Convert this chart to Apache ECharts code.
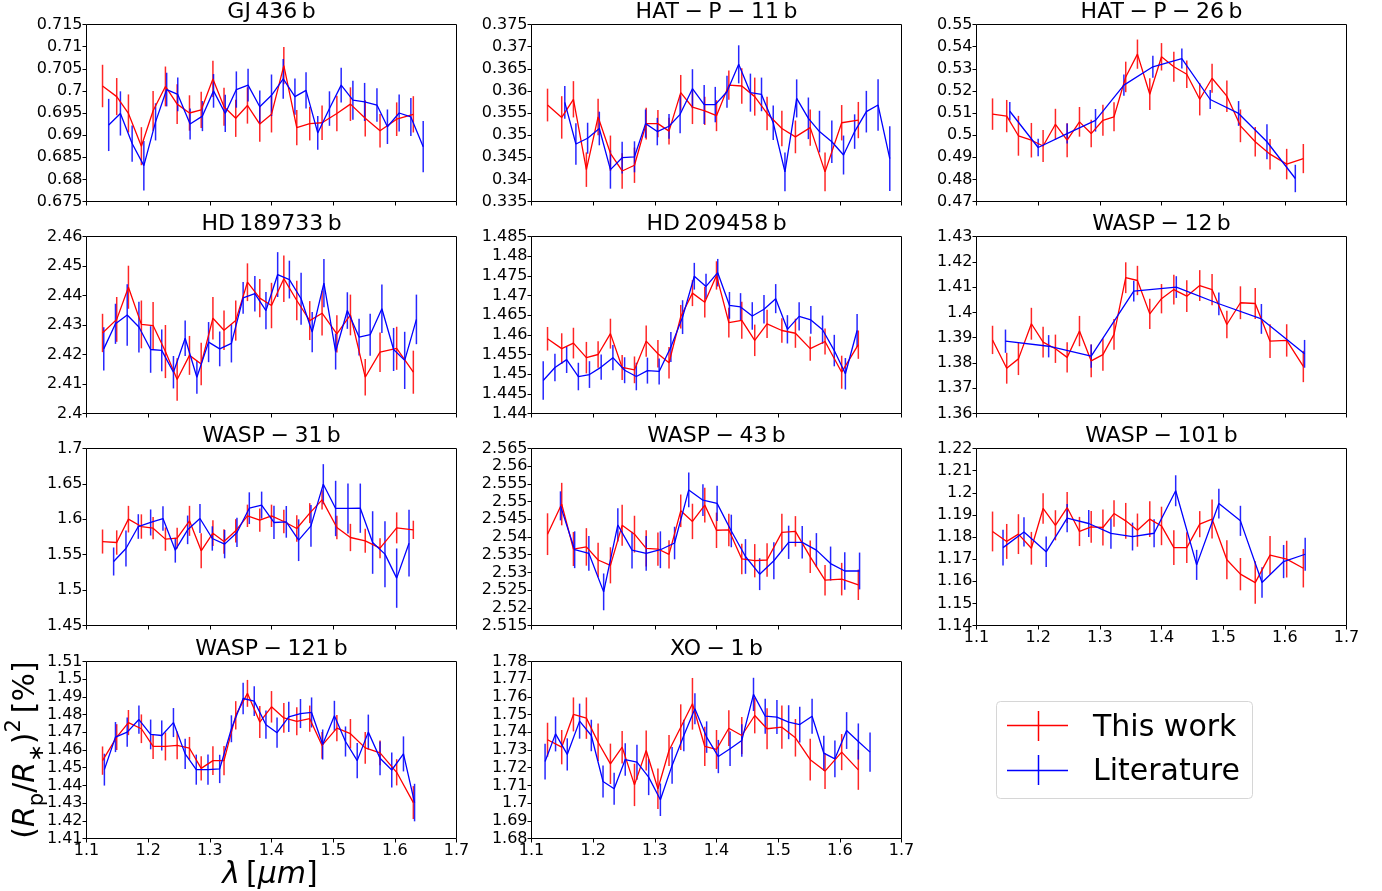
<!DOCTYPE html>
<html>
<head>
<meta charset="utf-8">
<script src="https://cdn.jsdelivr.net/npm/echarts@6/dist/echarts.min.js"></script>
<style>
  html, body { margin: 0; padding: 0; background: #ffffff; }
  #chart { width: 1382px; height: 891px; }
</style>
</head>
<body>
<div id="chart"></div>
<script>
// Wavelength grid (µm) of "This work" spectra, common to every planet
const wl_work = [1.126, 1.149, 1.168, 1.189, 1.208, 1.228, 1.247, 1.267, 1.286, 1.305, 1.323, 1.342, 1.361, 1.381, 1.400, 1.420, 1.441, 1.462, 1.482, 1.506, 1.528, 1.552, 1.576, 1.603, 1.630];

// ---- GJ 436 b ----
const gj436_work = [0.7011, 0.6987, 0.6949, 0.6875, 0.6955, 0.7010, 0.6970, 0.6950, 0.6957, 0.7027, 0.6964, 0.6938, 0.6967, 0.6925, 0.6947, 0.7057, 0.6917, 0.6926, 0.6928, 0.6949, 0.6970, 0.6938, 0.6910, 0.6936, 0.6947];
const gj436_work_err = [0.0048, 0.0042, 0.0043, 0.0043, 0.0045, 0.0045, 0.0045, 0.0040, 0.0041, 0.0041, 0.0043, 0.0042, 0.0041, 0.0040, 0.0041, 0.0042, 0.0040, 0.0038, 0.0039, 0.0040, 0.0038, 0.0041, 0.0038, 0.0038, 0.0041];
const gj436_lit_wl = [1.136, 1.155, 1.174, 1.193, 1.212, 1.230, 1.248, 1.268, 1.288, 1.306, 1.325, 1.343, 1.362, 1.381, 1.400, 1.419, 1.438, 1.456, 1.475, 1.494, 1.513, 1.532, 1.551, 1.571, 1.588, 1.607, 1.626, 1.646];
const gj436_lit = [0.6923, 0.6949, 0.6881, 0.6831, 0.6930, 0.7003, 0.6992, 0.6925, 0.6943, 0.7000, 0.6949, 0.7003, 0.7013, 0.6964, 0.6990, 0.7027, 0.6987, 0.7001, 0.6905, 0.6960, 0.7013, 0.6979, 0.6975, 0.6968, 0.6919, 0.6950, 0.6941, 0.6874];
const gj436_lit_err = [0.0059, 0.0050, 0.0041, 0.0056, 0.0042, 0.0038, 0.0038, 0.0035, 0.0034, 0.0038, 0.0042, 0.0041, 0.0037, 0.0037, 0.0047, 0.0045, 0.0041, 0.0041, 0.0038, 0.0039, 0.0039, 0.0044, 0.0043, 0.0038, 0.0039, 0.0042, 0.0043, 0.0058];
const gj436_yaxis = [0.675, 0.715, 0.005];

// ---- HAT-P-11 b ----
const hatp11_work = [0.3568, 0.3540, 0.3581, 0.3422, 0.3541, 0.3459, 0.3419, 0.3432, 0.3526, 0.3526, 0.3509, 0.3596, 0.3563, 0.3555, 0.3544, 0.3613, 0.3611, 0.3587, 0.3549, 0.3515, 0.3496, 0.3517, 0.3417, 0.3528, 0.3534];
const hatp11_work_err = [0.0037, 0.0048, 0.0041, 0.0039, 0.0041, 0.0040, 0.0040, 0.0040, 0.0036, 0.0031, 0.0030, 0.0040, 0.0038, 0.0032, 0.0035, 0.0033, 0.0040, 0.0043, 0.0038, 0.0040, 0.0037, 0.0041, 0.0044, 0.0040, 0.0041];
const hatp11_lit_wl = [1.154, 1.172, 1.191, 1.210, 1.228, 1.247, 1.267, 1.285, 1.304, 1.323, 1.341, 1.361, 1.380, 1.398, 1.417, 1.436, 1.455, 1.473, 1.492, 1.511, 1.530, 1.549, 1.567, 1.587, 1.606, 1.624, 1.643, 1.662, 1.681];
const hatp11_lit = [0.3574, 0.3480, 0.3493, 0.3515, 0.3422, 0.3449, 0.3451, 0.3526, 0.3508, 0.3520, 0.3547, 0.3605, 0.3569, 0.3569, 0.3598, 0.3660, 0.3596, 0.3592, 0.3528, 0.3417, 0.3583, 0.3538, 0.3508, 0.3485, 0.3455, 0.3508, 0.3553, 0.3568, 0.3447];
const hatp11_lit_err = [0.0037, 0.0047, 0.0035, 0.0038, 0.0043, 0.0036, 0.0035, 0.0032, 0.0031, 0.0028, 0.0043, 0.0044, 0.0044, 0.0040, 0.0036, 0.0043, 0.0043, 0.0038, 0.0039, 0.0044, 0.0043, 0.0047, 0.0047, 0.0048, 0.0044, 0.0039, 0.0047, 0.0058, 0.0073];
const hatp11_yaxis = [0.335, 0.375, 0.005];

// ---- HAT-P-26 b ----
const hatp26_work = [0.5095, 0.5086, 0.4997, 0.4977, 0.4951, 0.5049, 0.4977, 0.5060, 0.5007, 0.5067, 0.5083, 0.5263, 0.5366, 0.5185, 0.5354, 0.5309, 0.5275, 0.5162, 0.5257, 0.5176, 0.5042, 0.4970, 0.4914, 0.4869, 0.4894];
const hatp26_work_err = [0.0071, 0.0073, 0.0090, 0.0078, 0.0072, 0.0070, 0.0077, 0.0067, 0.0062, 0.0070, 0.0066, 0.0069, 0.0066, 0.0072, 0.0062, 0.0068, 0.0062, 0.0073, 0.0066, 0.0071, 0.0074, 0.0067, 0.0069, 0.0069, 0.0066];
const hatp26_lit_wl = [1.154, 1.200, 1.247, 1.293, 1.339, 1.386, 1.433, 1.479, 1.525, 1.571, 1.617];
const hatp26_lit = [0.5108, 0.4944, 0.5007, 0.5067, 0.5226, 0.5309, 0.5346, 0.5161, 0.5098, 0.4970, 0.4804];
const hatp26_lit_err = [0.0042, 0.0040, 0.0045, 0.0051, 0.0048, 0.0050, 0.0045, 0.0043, 0.0056, 0.0079, 0.0062];
const hatp26_yaxis = [0.47, 0.55, 0.01];

// ---- HD 189733 b ----
const hd189_work = [2.4273, 2.4319, 2.4428, 2.4302, 2.4298, 2.4210, 2.4115, 2.4197, 2.4168, 2.4323, 2.4282, 2.4315, 2.4445, 2.4391, 2.4366, 2.4457, 2.4383, 2.4315, 2.4340, 2.4270, 2.4334, 2.4123, 2.4208, 2.4221, 2.4140];
const hd189_work_err = [0.0065, 0.0076, 0.0073, 0.0081, 0.0080, 0.0090, 0.0072, 0.0066, 0.0072, 0.0072, 0.0067, 0.0068, 0.0064, 0.0065, 0.0077, 0.0079, 0.0067, 0.0066, 0.0076, 0.0063, 0.0069, 0.0062, 0.0067, 0.0073, 0.0073];
const hd189_lit_wl = [1.128, 1.147, 1.166, 1.185, 1.204, 1.222, 1.241, 1.260, 1.279, 1.298, 1.316, 1.335, 1.354, 1.373, 1.391, 1.410, 1.429, 1.448, 1.466, 1.485, 1.504, 1.523, 1.542, 1.560, 1.579, 1.598, 1.616, 1.635];
const hd189_lit = [2.4219, 2.4304, 2.4334, 2.4293, 2.4217, 2.4214, 2.4140, 2.4255, 2.4123, 2.4242, 2.4219, 2.4238, 2.4392, 2.4406, 2.4349, 2.4471, 2.4454, 2.4389, 2.4276, 2.4442, 2.4210, 2.4349, 2.4259, 2.4267, 2.4355, 2.4217, 2.4180, 2.4319];
const hd189_lit_err = [0.0073, 0.0068, 0.0104, 0.0086, 0.0079, 0.0071, 0.0055, 0.0060, 0.0056, 0.0068, 0.0059, 0.0065, 0.0054, 0.0060, 0.0063, 0.0076, 0.0064, 0.0088, 0.0068, 0.0082, 0.0061, 0.0062, 0.0062, 0.0071, 0.0082, 0.0073, 0.0097, 0.0084];
const hd189_yaxis = [2.40, 2.46, 0.01];

// ---- HD 209458 b ----
const hd209_work = [1.4590, 1.4565, 1.4579, 1.4542, 1.4550, 1.4603, 1.4517, 1.4511, 1.4584, 1.4552, 1.4529, 1.4646, 1.4706, 1.4683, 1.4751, 1.4631, 1.4637, 1.4586, 1.4628, 1.4611, 1.4604, 1.4565, 1.4583, 1.4505, 1.4575];
const hd209_work_err = [0.0030, 0.0039, 0.0039, 0.0040, 0.0034, 0.0038, 0.0032, 0.0034, 0.0040, 0.0035, 0.0040, 0.0030, 0.0033, 0.0039, 0.0036, 0.0038, 0.0047, 0.0040, 0.0036, 0.0031, 0.0037, 0.0031, 0.0033, 0.0042, 0.0036];
const hd209_lit_wl = [1.119, 1.138, 1.157, 1.176, 1.194, 1.213, 1.232, 1.251, 1.270, 1.288, 1.307, 1.326, 1.345, 1.364, 1.383, 1.402, 1.421, 1.439, 1.458, 1.477, 1.496, 1.515, 1.534, 1.553, 1.572, 1.591, 1.609, 1.628];
const hd209_lit = [1.4484, 1.4517, 1.4537, 1.4494, 1.4499, 1.4518, 1.4542, 1.4510, 1.4494, 1.4509, 1.4507, 1.4569, 1.4645, 1.4749, 1.4723, 1.4758, 1.4675, 1.4671, 1.4648, 1.4665, 1.4692, 1.4614, 1.4647, 1.4638, 1.4613, 1.4560, 1.4501, 1.4611];
const hd209_lit_err = [0.0049, 0.0035, 0.0034, 0.0035, 0.0034, 0.0032, 0.0032, 0.0033, 0.0035, 0.0033, 0.0033, 0.0038, 0.0043, 0.0034, 0.0032, 0.0035, 0.0034, 0.0035, 0.0035, 0.0036, 0.0037, 0.0036, 0.0036, 0.0035, 0.0036, 0.0040, 0.0040, 0.0042];
const hd209_yaxis = [1.44, 1.485, 0.005];

// ---- WASP-12 b ----
const wasp12_work = [1.3891, 1.3779, 1.3816, 1.3955, 1.3882, 1.3856, 1.3822, 1.3926, 1.3808, 1.3833, 1.3913, 1.4137, 1.4126, 1.3994, 1.4054, 1.4090, 1.4064, 1.4106, 1.4090, 1.3952, 1.4038, 1.4035, 1.3886, 1.3889, 1.3786];
const wasp12_work_err = [0.0056, 0.0061, 0.0064, 0.0063, 0.0061, 0.0056, 0.0060, 0.0060, 0.0065, 0.0064, 0.0061, 0.0061, 0.0058, 0.0060, 0.0058, 0.0059, 0.0063, 0.0061, 0.0062, 0.0054, 0.0065, 0.0061, 0.0067, 0.0064, 0.0062];
const wasp12_lit_wl = [1.147, 1.217, 1.286, 1.355, 1.424, 1.493, 1.562, 1.632];
const wasp12_lit = [1.3886, 1.3866, 1.3827, 1.4084, 1.4100, 1.4034, 1.3974, 1.3836];
const wasp12_lit_err = [0.0046, 0.0044, 0.0046, 0.0041, 0.0043, 0.0045, 0.0059, 0.0055];
const wasp12_yaxis = [1.36, 1.43, 0.01];

// ---- WASP-31 b ----
const wasp31_work = [1.5686, 1.5672, 1.6002, 1.5898, 1.5875, 1.5720, 1.5734, 1.5978, 1.5555, 1.5804, 1.5686, 1.5837, 1.6049, 1.5988, 1.6049, 1.5969, 1.5870, 1.6087, 1.6275, 1.5884, 1.5743, 1.5696, 1.5592, 1.5879, 1.5851];
const wasp31_work_err = [0.0170, 0.0172, 0.0188, 0.0172, 0.0158, 0.0165, 0.0148, 0.0212, 0.0247, 0.0181, 0.0172, 0.0165, 0.0158, 0.0165, 0.0158, 0.0167, 0.0188, 0.0141, 0.0137, 0.0165, 0.0193, 0.0170, 0.0141, 0.0219, 0.0129];
const wasp31_lit_wl = [1.144, 1.164, 1.184, 1.204, 1.224, 1.244, 1.264, 1.284, 1.304, 1.324, 1.344, 1.364, 1.384, 1.404, 1.424, 1.444, 1.464, 1.484, 1.504, 1.524, 1.544, 1.564, 1.584, 1.603, 1.623];
const wasp31_lit = [1.5404, 1.5588, 1.5898, 1.5955, 1.6011, 1.5564, 1.5851, 1.6011, 1.5729, 1.5649, 1.5814, 1.6157, 1.6200, 1.5955, 1.5964, 1.5705, 1.5908, 1.6496, 1.6153, 1.6153, 1.6157, 1.5672, 1.5508, 1.5169, 1.5663];
const wasp31_lit_err = [0.0198, 0.0254, 0.0174, 0.0184, 0.0172, 0.0176, 0.0202, 0.0205, 0.0172, 0.0200, 0.0207, 0.0224, 0.0191, 0.0235, 0.0224, 0.0295, 0.0294, 0.0283, 0.0391, 0.0353, 0.0348, 0.0442, 0.0466, 0.0419, 0.0471];
const wasp31_yaxis = [1.45, 1.70, 0.05];

// ---- WASP-43 b ----
const wasp43_work = [2.5408, 2.5493, 2.5366, 2.5372, 2.5335, 2.5320, 2.5433, 2.5408, 2.5368, 2.5366, 2.5351, 2.5474, 2.5444, 2.5490, 2.5419, 2.5420, 2.5338, 2.5333, 2.5335, 2.5413, 2.5416, 2.5344, 2.5278, 2.5281, 2.5265];
const wasp43_work_err = [0.0059, 0.0060, 0.0048, 0.0053, 0.0049, 0.0051, 0.0058, 0.0052, 0.0051, 0.0047, 0.0040, 0.0046, 0.0050, 0.0049, 0.0050, 0.0046, 0.0043, 0.0047, 0.0047, 0.0053, 0.0043, 0.0046, 0.0043, 0.0046, 0.0043];
const wasp43_lit_wl = [1.147, 1.170, 1.193, 1.217, 1.240, 1.263, 1.286, 1.309, 1.332, 1.355, 1.378, 1.401, 1.424, 1.447, 1.470, 1.493, 1.517, 1.539, 1.562, 1.585, 1.608, 1.632];
const wasp43_lit = [2.5488, 2.5364, 2.5354, 2.5245, 2.5434, 2.5363, 2.5354, 2.5364, 2.5383, 2.5533, 2.5504, 2.5495, 2.5417, 2.5345, 2.5295, 2.5333, 2.5385, 2.5385, 2.5363, 2.5325, 2.5304, 2.5304];
const wasp43_lit_err = [0.0041, 0.0052, 0.0049, 0.0052, 0.0047, 0.0052, 0.0049, 0.0052, 0.0046, 0.0049, 0.0045, 0.0050, 0.0046, 0.0049, 0.0045, 0.0052, 0.0047, 0.0046, 0.0048, 0.0048, 0.0053, 0.0052];
const wasp43_yaxis = [2.515, 2.565, 0.005];

// ---- WASP-101 b ----
const wasp101_work = [1.1825, 1.1780, 1.1813, 1.1749, 1.1929, 1.1853, 1.1933, 1.1825, 1.1846, 1.1843, 1.1906, 1.1873, 1.1831, 1.1881, 1.1850, 1.1752, 1.1752, 1.1858, 1.1881, 1.1697, 1.1632, 1.1594, 1.1718, 1.1700, 1.1659];
const wasp101_work_err = [0.0090, 0.0079, 0.0090, 0.0074, 0.0069, 0.0068, 0.0070, 0.0066, 0.0072, 0.0081, 0.0060, 0.0081, 0.0075, 0.0081, 0.0087, 0.0078, 0.0070, 0.0059, 0.0088, 0.0088, 0.0073, 0.0096, 0.0087, 0.0083, 0.0087];
const wasp101_lit_wl = [1.143, 1.177, 1.213, 1.247, 1.282, 1.318, 1.353, 1.388, 1.423, 1.457, 1.493, 1.528, 1.563, 1.598, 1.633];
const wasp101_lit = [1.1752, 1.1823, 1.1733, 1.1885, 1.1861, 1.1816, 1.1802, 1.1817, 1.2009, 1.1674, 1.1951, 1.1873, 1.1594, 1.1689, 1.1722];
const wasp101_lit_err = [0.0081, 0.0066, 0.0069, 0.0064, 0.0061, 0.0069, 0.0063, 0.0063, 0.0070, 0.0068, 0.0067, 0.0068, 0.0069, 0.0075, 0.0075];
const wasp101_yaxis = [1.14, 1.22, 0.01];

// ---- WASP-121 b ----
const wasp121_work = [1.4540, 1.4673, 1.4755, 1.4720, 1.4620, 1.4620, 1.4626, 1.4610, 1.4496, 1.4540, 1.4540, 1.4796, 1.4920, 1.4758, 1.4844, 1.4781, 1.4762, 1.4777, 1.4626, 1.4724, 1.4692, 1.4612, 1.4584, 1.4474, 1.4303];
const wasp121_work_err = [0.0080, 0.0073, 0.0071, 0.0081, 0.0071, 0.0079, 0.0078, 0.0064, 0.0069, 0.0081, 0.0082, 0.0080, 0.0076, 0.0090, 0.0089, 0.0084, 0.0079, 0.0074, 0.0076, 0.0074, 0.0083, 0.0090, 0.0070, 0.0074, 0.0093];
const wasp121_lit_wl = [1.129, 1.147, 1.166, 1.185, 1.204, 1.222, 1.241, 1.260, 1.278, 1.297, 1.316, 1.335, 1.354, 1.372, 1.391, 1.409, 1.428, 1.447, 1.465, 1.483, 1.502, 1.520, 1.539, 1.557, 1.576, 1.595, 1.614, 1.632];
const wasp121_lit = [1.4489, 1.4673, 1.4701, 1.4772, 1.4688, 1.4682, 1.4755, 1.4578, 1.4489, 1.4489, 1.4493, 1.4720, 1.4891, 1.4876, 1.4743, 1.4698, 1.4787, 1.4806, 1.4812, 1.4631, 1.4793, 1.4648, 1.4540, 1.4701, 1.4553, 1.4487, 1.4578, 1.4303];
const wasp121_lit_err = [0.0090, 0.0085, 0.0083, 0.0080, 0.0084, 0.0085, 0.0082, 0.0085, 0.0085, 0.0085, 0.0080, 0.0076, 0.0089, 0.0084, 0.0080, 0.0085, 0.0085, 0.0082, 0.0085, 0.0085, 0.0085, 0.0085, 0.0099, 0.0099, 0.0095, 0.0099, 0.0099, 0.0106];
const wasp121_yaxis = [1.41, 1.51, 0.01];

// ---- XO-1 b ----
const xo1_work = [1.7358, 1.7316, 1.7501, 1.7480, 1.7344, 1.7222, 1.7316, 1.7103, 1.7297, 1.7081, 1.7297, 1.7429, 1.7561, 1.7320, 1.7303, 1.7423, 1.7382, 1.7495, 1.7420, 1.7429, 1.7369, 1.7245, 1.7181, 1.7288, 1.7188];
const xo1_work_err = [0.0096, 0.0097, 0.0096, 0.0117, 0.0106, 0.0114, 0.0092, 0.0120, 0.0113, 0.0115, 0.0088, 0.0129, 0.0146, 0.0111, 0.0110, 0.0101, 0.0105, 0.0101, 0.0116, 0.0122, 0.0106, 0.0118, 0.0102, 0.0102, 0.0113];
const xo1_lit_wl = [1.122, 1.139, 1.158, 1.178, 1.197, 1.216, 1.234, 1.252, 1.271, 1.290, 1.309, 1.328, 1.347, 1.365, 1.384, 1.403, 1.422, 1.441, 1.460, 1.479, 1.498, 1.517, 1.535, 1.555, 1.574, 1.592, 1.611, 1.630, 1.649];
const xo1_lit = [1.7235, 1.7391, 1.7275, 1.7463, 1.7382, 1.7122, 1.7081, 1.7246, 1.7231, 1.7147, 1.7019, 1.7213, 1.7382, 1.7533, 1.7373, 1.7263, 1.7307, 1.7354, 1.7614, 1.7491, 1.7486, 1.7457, 1.7444, 1.7491, 1.7282, 1.7250, 1.7410, 1.7348, 1.7288];
const xo1_lit_err = [0.0101, 0.0099, 0.0091, 0.0099, 0.0089, 0.0091, 0.0091, 0.0092, 0.0099, 0.0102, 0.0092, 0.0104, 0.0089, 0.0087, 0.0089, 0.0094, 0.0097, 0.0092, 0.0094, 0.0099, 0.0096, 0.0096, 0.0101, 0.0099, 0.0099, 0.0104, 0.0104, 0.0102, 0.0111];
const xo1_yaxis = [1.68, 1.78, 0.01];

// Shared wavelength axis: [min, max, step]
const wl_axis = [1.1, 1.7, 0.1];

const panels = [
  { title: 'GJ\u2009436\u2009b', work: gj436_work, workErr: gj436_work_err, litWl: gj436_lit_wl, lit: gj436_lit, litErr: gj436_lit_err, y: gj436_yaxis },
  { title: 'HAT\u2005\u2212\u2005P\u2005\u2212\u200511\u2009b', work: hatp11_work, workErr: hatp11_work_err, litWl: hatp11_lit_wl, lit: hatp11_lit, litErr: hatp11_lit_err, y: hatp11_yaxis },
  { title: 'HAT\u2005\u2212\u2005P\u2005\u2212\u200526\u2009b', work: hatp26_work, workErr: hatp26_work_err, litWl: hatp26_lit_wl, lit: hatp26_lit, litErr: hatp26_lit_err, y: hatp26_yaxis },
  { title: 'HD\u2009189733\u2009b', work: hd189_work, workErr: hd189_work_err, litWl: hd189_lit_wl, lit: hd189_lit, litErr: hd189_lit_err, y: hd189_yaxis },
  { title: 'HD\u2009209458\u2009b', work: hd209_work, workErr: hd209_work_err, litWl: hd209_lit_wl, lit: hd209_lit, litErr: hd209_lit_err, y: hd209_yaxis },
  { title: 'WASP\u2005\u2212\u200512\u2009b', work: wasp12_work, workErr: wasp12_work_err, litWl: wasp12_lit_wl, lit: wasp12_lit, litErr: wasp12_lit_err, y: wasp12_yaxis },
  { title: 'WASP\u2005\u2212\u200531\u2009b', work: wasp31_work, workErr: wasp31_work_err, litWl: wasp31_lit_wl, lit: wasp31_lit, litErr: wasp31_lit_err, y: wasp31_yaxis },
  { title: 'WASP\u2005\u2212\u200543\u2009b', work: wasp43_work, workErr: wasp43_work_err, litWl: wasp43_lit_wl, lit: wasp43_lit, litErr: wasp43_lit_err, y: wasp43_yaxis },
  { title: 'WASP\u2005\u2212\u2005101\u2009b', work: wasp101_work, workErr: wasp101_work_err, litWl: wasp101_lit_wl, lit: wasp101_lit, litErr: wasp101_lit_err, y: wasp101_yaxis },
  { title: 'WASP\u2005\u2212\u2005121\u2009b', work: wasp121_work, workErr: wasp121_work_err, litWl: wasp121_lit_wl, lit: wasp121_lit, litErr: wasp121_lit_err, y: wasp121_yaxis },
  { title: 'XO\u2005\u2212\u20051\u2009b', work: xo1_work, workErr: xo1_work_err, litWl: xo1_lit_wl, lit: xo1_lit, litErr: xo1_lit_err, y: xo1_yaxis }
];

const RED = '#ff0000';
const BLUE = '#0000ff';
const FONT = 'DejaVu Sans';

// Panel layout: 3 columns x 4 rows
const COL_LEFT = [86.5, 531.5, 976.5];
const ROW_TOP = [24.5, 236.5, 448.5, 661.5];
const PW = 370, PH = 177;
// Panels that carry the wavelength tick labels (bottom of each column)
const LABELLED_X = [8, 9, 10];

function lineSeries(i, xs, ys, color) {
  return {
    type: 'line', xAxisIndex: i, yAxisIndex: i,
    data: xs.map((x, k) => [x, ys[k]]),
    symbol: 'none', showSymbol: false, silent: true, animation: false,
    lineStyle: { color: color, width: 1.3 },
    itemStyle: { color: color },
    emphasis: { disabled: true }
  };
}

function errSeries(i, xs, ys, es, color) {
  return {
    type: 'custom', xAxisIndex: i, yAxisIndex: i, silent: true, animation: false,
    data: xs.map((x, k) => [x, ys[k], es[k]]),
    encode: { x: 0, y: 1 },
    renderItem: function (params, api) {
      const x = api.value(0), y = api.value(1), e = api.value(2);
      const lo = api.coord([x, y - e]);
      const hi = api.coord([x, y + e]);
      return {
        type: 'line',
        shape: { x1: lo[0], y1: lo[1], x2: hi[0], y2: hi[1] },
        style: { stroke: color, lineWidth: 1.5, opacity: 0.85 }
      };
    }
  };
}

const grids = [], xAxes = [], yAxes = [], series = [], texts = [];

panels.forEach((p, i) => {
  const row = Math.floor(i / 3), col = i % 3;
  const left = COL_LEFT[col], top = ROW_TOP[row];
  grids.push({
    left: left, top: top, width: PW, height: PH,
    show: true, borderColor: '#000', borderWidth: 1, backgroundColor: 'transparent',
    containLabel: false, outerBoundsMode: 'none'
  });
  xAxes.push({
    type: 'value', gridIndex: i, min: wl_axis[0], max: wl_axis[1], interval: wl_axis[2],
    axisLine: { show: false },
    axisTick: { show: true, inside: false, length: 4, lineStyle: { color: '#000', width: 1 } },
    axisLabel: { show: LABELLED_X.includes(i), margin: 4, fontSize: 16, color: '#000', fontFamily: FONT, showMinLabel: true, showMaxLabel: true },
    splitLine: { show: false }
  });
  yAxes.push({
    type: 'value', gridIndex: i, min: p.y[0], max: p.y[1], interval: p.y[2],
    axisLine: { show: false },
    axisTick: { show: true, inside: false, length: 4, lineStyle: { color: '#000', width: 1 } },
    axisLabel: { show: true, margin: 4, fontSize: 16, color: '#000', fontFamily: FONT, showMinLabel: true, showMaxLabel: true },
    splitLine: { show: false }
  });
  series.push(lineSeries(i, wl_work, p.work, RED));
  series.push(errSeries(i, wl_work, p.work, p.workErr, RED));
  series.push(lineSeries(i, p.litWl, p.lit, BLUE));
  series.push(errSeries(i, p.litWl, p.lit, p.litErr, BLUE));

  texts.push({
    type: 'text', x: left + PW / 2, y: top - 12, silent: true,
    style: { text: p.title, fontSize: 22, fontFamily: FONT, fill: '#000', align: 'center', verticalAlign: 'middle' }
  });
});

// Axis titles
texts.push({
  type: 'text', x: 26, y: 750, rotation: Math.PI / 2, silent: true,
  style: {
    text: '{n|(}{i|R}{s|p}{n|/}{i|R}{s|\u2217}{n|)}{u|2}{n|\u2009[%]}',
    align: 'center', verticalAlign: 'middle',
    rich: {
      n: { fontSize: 30, fontFamily: FONT, fill: '#000', lineHeight: 44, verticalAlign: 'middle' },
      i: { fontSize: 30, fontFamily: FONT, fontStyle: 'italic', fill: '#000', lineHeight: 44, verticalAlign: 'middle' },
      s: { fontSize: 21, fontFamily: FONT, fill: '#000', lineHeight: 44, verticalAlign: 'bottom' },
      u: { fontSize: 21, fontFamily: FONT, fill: '#000', lineHeight: 44, verticalAlign: 'top' }
    }
  }
});
texts.push({
  type: 'text', x: 270, y: 875, silent: true,
  style: {
    text: '{i|\u03bb}{n|\u2009[}{i|\u03bcm}{n|]}',
    align: 'center', verticalAlign: 'middle',
    rich: {
      n: { fontSize: 30, fontFamily: FONT, fill: '#000' },
      i: { fontSize: 30, fontFamily: FONT, fontStyle: 'italic', fill: '#000' }
    }
  }
});

// Legend box
const legend = {
  type: 'group', silent: true,
  children: [
    { type: 'rect', shape: { x: 996.5, y: 701.5, width: 256, height: 97, r: 4 },
      style: { fill: 'rgba(255,255,255,0.8)', stroke: '#d6d6d6', lineWidth: 1 } },
    { type: 'line', shape: { x1: 1007, y1: 725.5, x2: 1068, y2: 725.5 }, style: { stroke: RED, lineWidth: 1.3 } },
    { type: 'line', shape: { x1: 1038.5, y1: 711, x2: 1038.5, y2: 741 }, style: { stroke: RED, lineWidth: 1.5 } },
    { type: 'text', x: 1093, y: 728, style: { text: 'This work', fontSize: 30, fontFamily: FONT, fill: '#000', align: 'left', verticalAlign: 'middle' } },
    { type: 'line', shape: { x1: 1007, y1: 770.5, x2: 1068, y2: 770.5 }, style: { stroke: BLUE, lineWidth: 1.3 } },
    { type: 'line', shape: { x1: 1038.5, y1: 755, x2: 1038.5, y2: 785 }, style: { stroke: BLUE, lineWidth: 1.5 } },
    { type: 'text', x: 1093, y: 772.5, style: { text: 'Literature', fontSize: 30, fontFamily: FONT, fill: '#000', align: 'left', verticalAlign: 'middle' } }
  ]
};

const chart = echarts.init(document.getElementById('chart'), null, { renderer: 'canvas' });
chart.setOption({
  animation: false,
  backgroundColor: '#ffffff',
  textStyle: { fontFamily: FONT },
  grid: grids,
  xAxis: xAxes,
  yAxis: yAxes,
  series: series,
  graphic: { elements: texts.concat([legend]) }
});
</script>
</body>
</html>
